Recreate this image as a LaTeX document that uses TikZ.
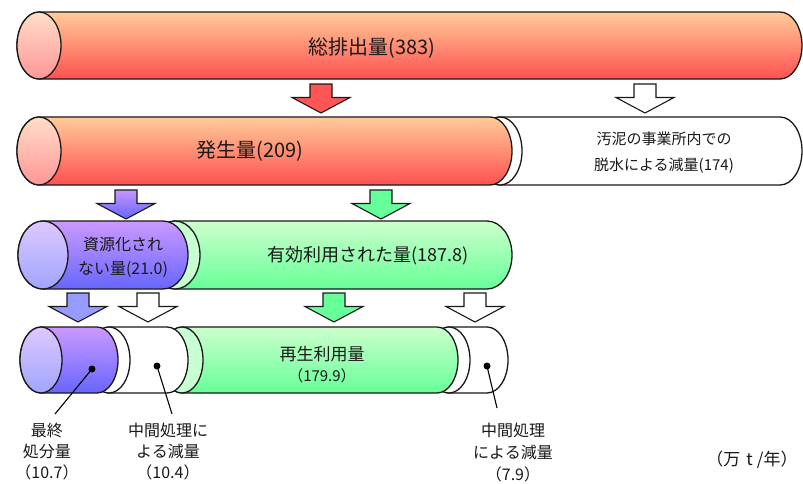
\documentclass[tikz,border=0pt]{standalone}
\usepackage{fontspec}
\setmainfont{Noto Sans CJK JP}
\definecolor{redtop}{RGB}{255,204,153}
\definecolor{redbot}{RGB}{255,80,80}
\definecolor{redfacetop}{RGB}{255,222,200}
\definecolor{redfacebot}{RGB}{255,150,150}
\definecolor{purtop}{RGB}{204,153,255}
\definecolor{purbot}{RGB}{102,102,255}
\definecolor{purfacetop}{RGB}{222,200,255}
\definecolor{purfacebot}{RGB}{160,165,255}
\definecolor{grntop}{RGB}{204,255,204}
\definecolor{grnbot}{RGB}{102,255,153}
\definecolor{grnface}{RGB}{200,255,210}
\definecolor{redarrow}{RGB}{255,85,85}
\definecolor{purarrowtop}{RGB}{200,150,255}
\definecolor{purarrowbot}{RGB}{100,100,255}
\definecolor{purarrow}{RGB}{150,155,255}
\definecolor{grnarrow}{RGB}{102,255,153}
\definecolor{ink}{RGB}{25,25,25}
\tikzset{
  outline/.style={draw=ink, line width=1.3pt, line join=round},
  redbody/.style={outline, top color=redtop, bottom color=redbot},
  redface/.style={outline, top color=redfacetop, bottom color=redfacebot},
  purbody/.style={outline, top color=purtop, bottom color=purbot},
  purface/.style={outline, top color=purfacetop, bottom color=purfacebot},
  grnbody/.style={outline, top color=grntop, bottom color=grnbot},
  grnfacest/.style={outline, fill=grnface},
  whitebody/.style={outline, fill=white},
  arrowst/.style={draw=ink, line width=1.1pt, line join=miter},
  redarr/.style={arrowst, fill=redarrow},
  whitearr/.style={arrowst, fill=white},
  purarrA/.style={arrowst, top color=purarrowtop, bottom color=purarrowbot},
  purarrB/.style={arrowst, fill=purarrow},
  grnarr/.style={arrowst, fill=grnarrow},
  bigtxt/.style={font=\fontsize{20}{24}\selectfont, text=ink, inner sep=0pt},
  midtxt/.style={font=\fontsize{16}{24}\selectfont, text=ink, align=center, inner sep=0pt},
  smalltxt/.style={font=\fontsize{15}{26}\selectfont, text=ink, align=center, inner sep=0pt},
  labtxt/.style={font=\fontsize{16}{22}\selectfont, text=ink, align=center, inner sep=0pt},
  dot/.style={circle, fill=black, minimum size=7pt, inner sep=0pt},
  pointer/.style={draw=black, line width=1.1pt},
}
% body: x1, x2, yc, rx, ry, style
\newcommand\cylbody[6]{%
  \path[#6] (#1,{-(#3)+(#5)}) -- (#2,{-(#3)+(#5)})
    arc[start angle=90,end angle=-90,x radius=#4pt,y radius=#5pt]
    -- (#1,{-(#3)-(#5)})
    arc[start angle=270,end angle=90,x radius=#4pt,y radius=#5pt] -- cycle;}
% face: x, yc, rx, ry, style
\newcommand\cylface[5]{\path[#5] (#1,-#2) ellipse [x radius=#3pt, y radius=#4pt];}
% down arrow: cx, ytop, style
\newcommand\dnarrow[3]{%
  \path[#3] ({#1-11},-#2) -- ({#1+11},-#2) -- ({#1+11},{-#2-13.5}) -- ({#1+29},{-#2-13.5})
    -- (#1,{-#2-29}) -- ({#1-29},{-#2-13.5}) -- ({#1-11},{-#2-13.5}) -- cycle;}
\begin{document}
\begin{tikzpicture}[x=1pt,y=1pt]
\path[fill=white] (0,0) rectangle (803,-483);
\useasboundingbox (0,0) rectangle (803,-483);

% Row 1
\cylbody{39}{780}{45.5}{22}{33.5}{redbody}
\cylface{39}{45.5}{22}{33.5}{redface}
\node[bigtxt] (total) at (372,-48) {総排出量(383)};

% arrows row1 -> row2
\dnarrow{321}{84}{redarr}
\dnarrow{645}{84}{whitearr}

% Row 2
\cylbody{500}{780}{151}{22}{34}{whitebody}
\cylface{500}{151}{22}{34}{whitebody}
\cylbody{39}{490}{151}{22}{34}{redbody}
\cylface{39}{151}{22}{34}{redface}
\node[bigtxt] (gen) at (250,-151) {発生量(209)};
\node[smalltxt] (dewater) at (664,-153) {汚泥の事業所内での\\脱水による減量(174)};

% arrows row2 -> row3
\dnarrow{126}{190}{purarrA}
\dnarrow{381}{190}{grnarr}

% Row 3
\cylbody{175}{487}{255}{25}{34}{grnbody}
\cylface{175}{255}{25}{34}{grnfacest}
\cylbody{43}{163}{255}{25}{34}{purbody}
\cylface{43}{255}{25}{34}{purface}
\node[midtxt] (nonres) at (123,-257) {資源化され\\ない量(21.0)};
\node[font=\fontsize{18}{22}\selectfont, text=ink, inner sep=0pt] (used) at (368,-256) {有効利用された量(187.8)};

% arrows row3 -> row4
\dnarrow{78}{293}{purarrB}
\dnarrow{148}{293}{whitearr}
\dnarrow{334}{293}{grnarr}
\dnarrow{475}{293}{whitearr}

% Row 4
\cylbody{449}{487}{360}{21}{33}{whitebody}
\cylface{449}{360}{21}{33}{whitebody}
\cylbody{182}{437}{360}{21}{33}{grnbody}
\cylface{182}{360}{21}{33}{grnfacest}
\cylbody{109}{167}{360}{21}{33}{whitebody}
\cylface{109}{360}{21}{33}{whitebody}
\cylbody{41}{97}{360}{21}{33}{purbody}
\cylface{41}{360}{21}{33}{purface}
\node[font=\fontsize{17}{22}\selectfont, text=ink, inner sep=0pt] (recyc) at (322,-354) {再生利用量};
\node[font=\fontsize{15}{22}\selectfont, text=ink, inner sep=0pt] (recycval) at (322,-376) {（179.9）};

% dots and pointers
\node[dot] (d1) at (92,-369) {};
\node[dot] (d2) at (157,-366) {};
\node[dot] (d3) at (487,-366) {};
\coordinate (e1) at (55,-414);
\coordinate (e2) at (172,-414);
\coordinate (e3) at (497,-408);
\draw[pointer] (d1.center) -- (e1);
\draw[pointer] (d2.center) -- (e2);
\draw[pointer] (d3.center) -- (e3);

% labels
\node[labtxt, font=\fontsize{16}{21}\selectfont] (lab1) at (47,-452) {最終\\処分量\\（10.7）};
\node[labtxt, font=\fontsize{16}{21}\selectfont] (lab2) at (168,-452) {中間処理に\\よる減量\\（10.4）};
\node[labtxt, font=\fontsize{16}{22}\selectfont] (lab3) at (513,-453) {中間処理\\による減量\\（7.9）};
\node[labtxt, font=\fontsize{17}{22}\selectfont] (unit) at (752,-460) {（万\hspace{6pt}t\hspace{4pt}/年）};
\end{tikzpicture}
\end{document}
